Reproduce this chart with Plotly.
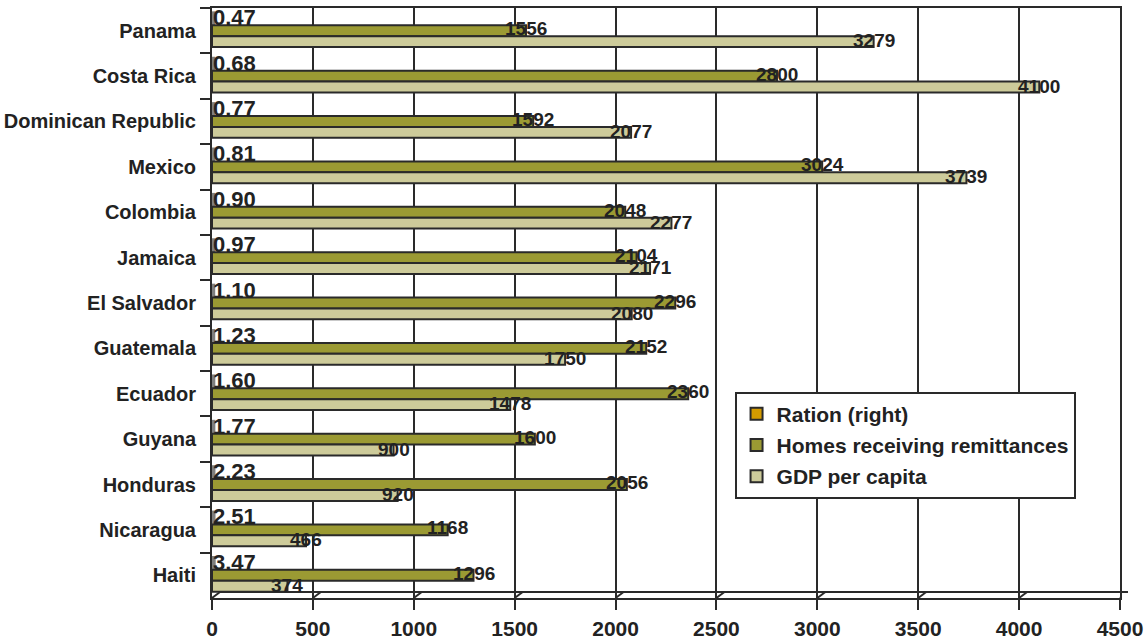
import plotly.graph_objects as go

# Remittance survey: countries listed top to bottom
countries = [
    "Panama", "Costa Rica", "Dominican Republic", "Mexico", "Colombia",
    "Jamaica", "El Salvador", "Guatemala", "Ecuador", "Guyana",
    "Honduras", "Nicaragua", "Haiti",
]
homes_receiving = [1556, 2800, 1592, 3024, 2048, 2104, 2296, 2152, 2360, 1600, 2056, 1168, 1296]
gdp_per_capita = [3279, 4100, 2077, 3739, 2277, 2171, 2080, 1750, 1478, 900, 920, 466, 374]
ratio = [0.47, 0.68, 0.77, 0.81, 0.90, 0.97, 1.10, 1.23, 1.60, 1.77, 2.23, 2.51, 3.47]

x_ticks = [0, 500, 1000, 1500, 2000, 2500, 3000, 3500, 4000, 4500]

FONT = "Liberation Sans"
INK = "#222222"
EDGE = "#2a2a2a"
OLIVE = "#9b9a33"
SAND = "#cdcb9a"
ORANGE = "#d49b00"
STUB = "#7f7f7f"

fig = go.Figure()

# Ratio series: practically zero length on this scale, so it shows as a grey stub
fig.add_trace(go.Bar(
    y=countries, x=ratio, orientation="h", name="Ration (right)",
    offsetgroup="r", showlegend=False, hoverinfo="skip",
    marker=dict(color=STUB, line=dict(color=STUB, width=6)),
))
# legend entry for the ratio series
fig.add_trace(go.Bar(
    y=[None], x=[None], orientation="h", name="Ration (right)",
    offsetgroup="r", legendgroup="a",
    marker=dict(color=ORANGE, line=dict(color=EDGE, width=2)),
))
fig.add_trace(go.Bar(
    y=countries, x=homes_receiving, orientation="h",
    name="Homes receiving remittances", offsetgroup="h", legendgroup="b",
    marker=dict(color=OLIVE, line=dict(color=EDGE, width=2)),
))
fig.add_trace(go.Bar(
    y=countries, x=gdp_per_capita, orientation="h",
    name="GDP per capita", offsetgroup="g", legendgroup="c",
    marker=dict(color=SAND, line=dict(color=EDGE, width=2)),
))

# value labels
ann = []
for c, r, h, g in zip(countries, ratio, homes_receiving, gdp_per_capita):
    ann.append(dict(x=0, y=c, text=f"{r:.2f}", xanchor="left", yanchor="middle",
                    xshift=-1, yshift=13, showarrow=False,
                    font=dict(family=FONT, size=22, color=INK, weight="bold")))
    ann.append(dict(x=h, y=c, text=str(h), xanchor="center", yanchor="middle",
                    yshift=2, showarrow=False,
                    font=dict(family=FONT, size=19, color=INK, weight="bold")))
    ann.append(dict(x=g, y=c, text=str(g), xanchor="center", yanchor="middle",
                    yshift=-10, showarrow=False,
                    font=dict(family=FONT, size=19, color=INK, weight="bold")))

# 3D floor: back edge and the slanted joints at each tick
shapes = [dict(type="line", xref="paper", yref="paper",
               x0=0.0088, x1=1.0088, ysizemode="pixel", yanchor=0, y0=6, y1=6,
               line=dict(color=EDGE, width=2), layer="above")]
for v in x_ticks:
    shapes.append(dict(type="line", xref="x", yref="paper",
                       xsizemode="pixel", xanchor=v, x0=0, x1=8,
                       ysizemode="pixel", yanchor=0, y0=0, y1=6,
                       line=dict(color=EDGE, width=2), layer="above"))

fig.update_layout(
    width=1146, height=642,
    margin=dict(l=212, r=26, t=8, b=44),
    paper_bgcolor="white", plot_bgcolor="white",
    barmode="group", bargap=0.28, bargroupgap=0,
    font=dict(family=FONT, size=20, color=INK, weight="bold"),
    annotations=ann, shapes=shapes,
    legend=dict(
        x=0.5755, y=0.35, xanchor="left", yanchor="top",
        bgcolor="white", bordercolor=EDGE, borderwidth=2,
        traceorder="grouped", tracegroupgap=1, itemwidth=30,
        font=dict(family=FONT, size=21, color=INK, weight="bold"),
    ),
)
fig.update_xaxes(
    automargin=False,
    range=[0, 4500], tickvals=x_ticks, ticktext=[str(v) for v in x_ticks],
    showgrid=True, gridcolor=EDGE, gridwidth=2, zeroline=False,
    showline=True, linecolor=EDGE, linewidth=2, mirror=True,
    ticks="outside", ticklen=10, tickwidth=2, tickcolor=EDGE,
    ticklabelstandoff=1,
    tickfont=dict(family=FONT, size=21, color=INK, weight="bold"),
)
fig.update_yaxes(
    automargin=False,
    categoryorder="array", categoryarray=countries,
    range=[len(countries) - 0.5, -0.5],
    showline=True, linecolor=EDGE, linewidth=2, mirror=True,
    ticks="outside", tickson="boundaries", ticklen=10, tickwidth=2, tickcolor=EDGE,
    showgrid=False, ticklabelstandoff=10,
    tickfont=dict(family=FONT, size=20, color=INK, weight="bold"),
)

fig.write_html("out.html")
